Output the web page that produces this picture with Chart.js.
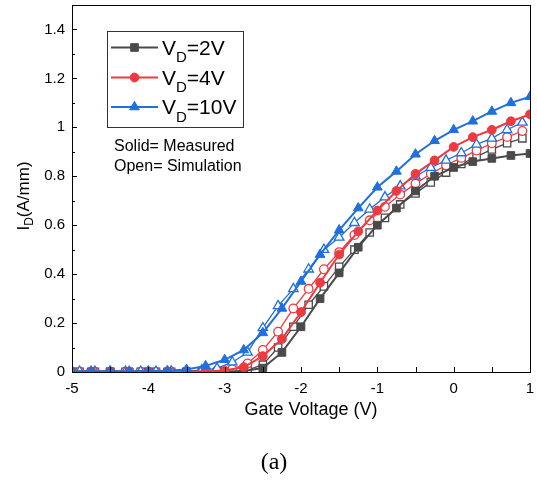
<!DOCTYPE html>
<html><head><meta charset="utf-8">
<script src="https://cdn.jsdelivr.net/npm/chart.js@4.4.1/dist/chart.umd.min.js"></script>
<style>html,body{margin:0;padding:0;background:#fff}canvas{display:block}</style>
</head><body>
<canvas id="c" width="537" height="482"></canvas>
<script>
// ---- data ----
const vgMeas = [-5,-4.75,-4.5,-4.25,-4,-3.75,-3.5,-3.25,-3,-2.75,-2.5,-2.25,-2,-1.75,-1.5,-1.25,-1,-0.75,-0.5,-0.25,0,0.25,0.5,0.75,1];
const meas2V  = [0.001,0.001,0.001,0.001,0.001,0.001,0.001,0.001,0.002,0.004,0.016,0.08,0.185,0.30,0.405,0.51,0.60,0.67,0.74,0.80,0.836,0.86,0.873,0.885,0.893];
const meas4V  = [0.002,0.002,0.002,0.002,0.002,0.002,0.002,0.003,0.006,0.02,0.065,0.135,0.245,0.365,0.48,0.575,0.66,0.74,0.81,0.865,0.92,0.96,0.99,1.025,1.053];
const meas10V = [0.003,0.003,0.003,0.003,0.004,0.005,0.01,0.025,0.05,0.09,0.16,0.26,0.37,0.48,0.58,0.67,0.755,0.82,0.89,0.945,0.99,1.025,1.065,1.10,1.125];
const vgSim = [-4.9,-4.7,-4.5,-4.3,-4.1,-3.9,-3.7,-3.5,-3.3,-3.1,-2.9,-2.7,-2.5,-2.3,-2.1,-1.9,-1.7,-1.5,-1.3,-1.1,-0.9,-0.7,-0.5,-0.3,-0.1,0.1,0.3,0.5,0.7,0.9];
const sim2V  = [0.001,0.001,0.001,0.001,0.001,0.001,0.001,0.001,0.001,0.001,0.002,0.008,0.03,0.10,0.185,0.275,0.35,0.43,0.50,0.57,0.63,0.685,0.73,0.775,0.815,0.85,0.88,0.91,0.935,0.955];
const sim4V  = [0.001,0.001,0.001,0.001,0.001,0.001,0.001,0.001,0.001,0.004,0.012,0.035,0.09,0.165,0.26,0.34,0.42,0.49,0.56,0.62,0.675,0.725,0.77,0.81,0.845,0.875,0.905,0.935,0.96,0.985];
const sim10V = [0.002,0.002,0.002,0.002,0.002,0.002,0.003,0.004,0.008,0.015,0.04,0.08,0.18,0.27,0.34,0.42,0.50,0.55,0.61,0.665,0.715,0.76,0.80,0.835,0.865,0.895,0.93,0.955,0.99,1.02];
const seriesLabels = ["2V","4V","10V"];
const xTicks = {min:-5, max:1, step:1, minorStep:0.5};
const yTicks = {min:0, max:1.5, step:0.2, top:1.4, minorStep:0.1};

const C_GRAY = '#4a4a4a', C_RED = '#ec3a40', C_BLUE = '#1f6fdc';
const FONT = '"Liberation Sans", Arial, sans-serif';

const pts = (xs, ys) => xs.map((x,i)=>({x:x, y:ys[i]}));
function meas(ys, color, style, r, order){
  return {data: pts(vgMeas, ys), borderColor: color, backgroundColor: color, borderWidth: 2,
    pointStyle: style, pointRadius: r, pointBorderWidth: 1, pointBorderColor: color, pointBackgroundColor: color,
    tension: 0, order: order};
}
function sim(ys, color, style, r, order){
  return {data: pts(vgSim, ys), borderColor: color, backgroundColor: '#fff', borderWidth: 1.3,
    pointStyle: style, pointRadius: r, pointBorderWidth: 1.3, pointBorderColor: color, pointBackgroundColor: '#fff',
    tension: 0, order: order};
}
const datasets = [
  sim(sim2V, C_GRAY, 'rect', 5.2, 6),
  sim(sim4V, C_RED, 'circle', 4.3, 5),
  sim(sim10V, C_BLUE, 'triangle', 5.5, 4),
  meas(meas2V, C_GRAY, 'rect', 5.4, 3),
  meas(meas4V, C_RED, 'circle', 4.4, 2),
  meas(meas10V, C_BLUE, 'triangle', 5.6, 1)
];
const legendItems = [
  {color:C_GRAY, style:'rect', r:5.4, label:seriesLabels[0]},
  {color:C_RED, style:'circle', r:4.4, label:seriesLabels[1]},
  {color:C_BLUE, style:'triangle', r:5.6, label:seriesLabels[2]}
];

const decor = {
  id:'decor',
  afterDraw(chart){
    const ctx = chart.ctx, a = chart.chartArea;
    const xs = chart.scales.x, ys = chart.scales.y;
    ctx.save();
    // frame
    ctx.strokeStyle = '#000'; ctx.lineWidth = 1;
    ctx.strokeRect(Math.round(a.left)+0.5, Math.round(a.top)+0.5, Math.round(a.right-a.left), Math.round(a.bottom-a.top));
    // inward ticks
    ctx.beginPath();
    for (let v = xTicks.min; v <= xTicks.max + 1e-9; v += xTicks.minorStep){
      const px = Math.round(xs.getPixelForValue(v)) + 0.5;
      ctx.moveTo(px, a.bottom); ctx.lineTo(px, a.bottom - 5);
    }
    for (let k = 0; yTicks.min + k*yTicks.minorStep <= yTicks.max + 1e-9; k++){
      const v = yTicks.min + k*yTicks.minorStep;
      const py = Math.round(ys.getPixelForValue(v)) + 0.5;
      const len = (k % 2 === 0) ? 5 : 3;
      ctx.moveTo(a.left, py); ctx.lineTo(a.left + len, py);
    }
    ctx.stroke();

    // legend box
    ctx.strokeStyle = '#333'; ctx.lineWidth = 1;
    ctx.strokeRect(107.5, 31.5, 136, 96);
    const rows = [47.5, 77.5, 107];
    legendItems.forEach((it, i) => {
      const y = rows[i];
      ctx.strokeStyle = it.color; ctx.lineWidth = 2;
      ctx.beginPath(); ctx.moveTo(111, y); ctx.lineTo(158, y); ctx.stroke();
      ctx.fillStyle = it.color; ctx.lineWidth = 1;
      Chart.helpers.drawPoint(ctx, {pointStyle: it.style, radius: it.r, borderWidth: 1}, 134.5, y);
      ctx.fillStyle = '#000'; ctx.textBaseline = 'alphabetic'; ctx.textAlign = 'left';
      ctx.font = '21px ' + FONT;
      let x = 162;
      ctx.fillText('V', x, y + 7); x += ctx.measureText('V').width;
      ctx.font = '15px ' + FONT;
      ctx.fillText('D', x, y + 14.5); x += ctx.measureText('D').width;
      ctx.font = '21px ' + FONT;
      ctx.fillText('=' + it.label, x, y + 7);
    });
    ctx.font = '16px ' + FONT; ctx.fillStyle = '#000'; ctx.textBaseline = 'middle';
    ctx.fillText('Solid= Measured', 114, 147);
    ctx.fillText('Open= Simulation', 114, 167);

    // axis titles
    ctx.font = '18px ' + FONT; ctx.textAlign = 'center';
    ctx.fillText('Gate Voltage (V)', 311, 410);
    ctx.save();
    ctx.translate(24, 196); ctx.rotate(-Math.PI/2);
    ctx.font = '17px ' + FONT; ctx.textAlign = 'left'; ctx.textBaseline = 'middle';
    const w1 = ctx.measureText('I').width;
    ctx.font = '12px ' + FONT; const w2 = ctx.measureText('D').width;
    ctx.font = '17px ' + FONT; const w3 = ctx.measureText('(A/mm)').width;
    let sx = -(w1 + w2 + w3)/2;
    ctx.fillText('I', sx, 0); sx += w1;
    ctx.font = '12px ' + FONT; ctx.fillText('D', sx, 6); sx += w2;
    ctx.font = '17px ' + FONT; ctx.fillText('(A/mm)', sx, 0);
    ctx.restore();

    // caption
    ctx.font = '24px "Liberation Serif", "Times New Roman", serif'; ctx.textAlign = 'center'; ctx.textBaseline = 'middle';
    ctx.fillText('(a)', 274, 463);
    ctx.restore();
  }
};

new Chart(document.getElementById('c'), {
  type: 'line',
  data: {datasets},
  options: {
    responsive: false, animation: false, devicePixelRatio: 1,
    layout: {autoPadding: false, padding: {top: 5, right: 7, left: 0, bottom: 0}},
    plugins: {legend: {display: false}, tooltip: {enabled: false}},
    scales: {
      x: {type: 'linear', min: xTicks.min, max: xTicks.max,
        ticks: {stepSize: xTicks.step, color: '#000', font: {family: FONT, size: 15}, padding: 8, maxRotation: 0},
        grid: {display: false, drawTicks: false}, border: {display: false},
        afterFit(s){ s.height = 110; s.paddingLeft = 0; s.paddingRight = 0; }},
      y: {type: 'linear', min: yTicks.min, max: yTicks.max,
        ticks: {stepSize: yTicks.step, color: '#000', font: {family: FONT, size: 15}, padding: 7,
          callback: v => String(Number(v.toFixed(2)))},
        grid: {display: false, drawTicks: false}, border: {display: false},
        afterBuildTicks(s){ s.ticks = s.ticks.filter(t => t.value <= yTicks.top + 1e-9); },
        afterFit(s){ s.width = 72; s.paddingTop = 0; s.paddingBottom = 0; }}
    }
  },
  plugins: [decor]
});
</script>
</body></html>
